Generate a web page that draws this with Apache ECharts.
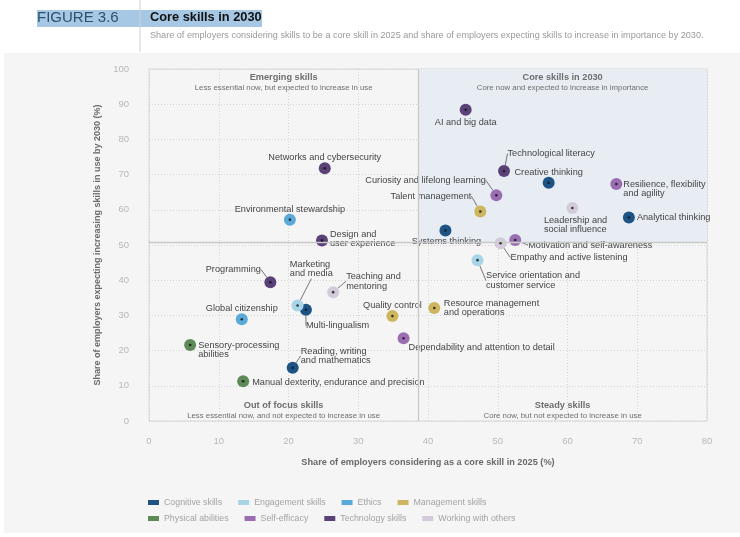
<!DOCTYPE html>
<html>
<head>
<meta charset="utf-8">
<title>Core skills in 2030</title>
<script src="https://cdn.jsdelivr.net/npm/echarts@6/dist/echarts.min.js"></script>
<style>
  html, body { margin: 0; padding: 0; background: #fff; }
  #chart { width: 740px; height: 537px; }
</style>
</head>
<body>
<div id="chart"></div>
<script>
// categories shown in the legend
var categories = ['Cognitive skills', 'Engagement skills', 'Ethics', 'Management skills',
                  'Physical abilities', 'Self-efficacy', 'Technology skills', 'Working with others'];

// skill names (line breaks as printed)
var skills = [
    'AI and big data', 'Technological literacy', 'Creative thinking',
    'Resilience, flexibility\nand agility', 'Curiosity and lifelong learning', 'Talent management',
    'Leadership and\nsocial influence', 'Analytical thinking', 'Systems thinking',
    'Motivation and self-awareness', 'Empathy and active listening',
    'Service orientation and\ncustomer service', 'Resource management\nand operations',
    'Quality control', 'Dependability and attention to detail', 'Networks and cybersecurity',
    'Environmental stewardship', 'Design and\nuser experience', 'Programming',
    'Teaching and\nmentoring', 'Marketing\nand media', 'Multi-lingualism', 'Global citizenship',
    'Sensory-processing\nabilities', 'Reading, writing\nand mathematics',
    'Manual dexterity, endurance and precision'
];
// share of employers considering it a core skill in 2025 (%)
var coreShare = [45.4, 50.9, 57.3, 67.0, 49.8, 47.5, 60.7, 68.8, 42.5, 52.5, 50.4, 47.1, 40.9,
                 34.9, 36.5, 25.2, 20.2, 24.8, 17.4, 26.4, 21.3, 22.5, 13.3, 5.9, 20.6, 13.5];
// share of employers expecting increasing use by 2030 (%)
var increaseShare = [88.4, 71.0, 67.7, 67.3, 64.1, 59.5, 60.5, 57.8, 54.1, 51.4, 50.5, 45.7, 32.1,
                     29.8, 23.5, 71.8, 57.2, 51.3, 39.4, 36.6, 32.8, 31.6, 28.9, 21.6, 15.1, 11.3];
// index into categories
var skillGroup = [6, 6, 0, 5, 5, 3, 7, 0, 0, 5, 7, 1, 3, 3, 5, 6, 2, 6, 6, 7, 1, 0, 2, 4, 0, 4];

// quadrant dividers
var xDivider = 38.6;
var yDivider = 50.8;

var colors = ['#1e5485', '#a8d4e8', '#5aaad9', '#cdb65e', '#5d8a57', '#9b6eb1', '#5a4279', '#d3cbdb'];

// label placement relative to each point: dx, dy, align, leader line
var labelSpots = [
    [0, 12.5, 'center', false], [3.5, -17.5, 'left', true], [0, -10.5, 'center', false],
    [7, 5, 'left', false], [-10.5, -15, 'right', true], [-9, -15.5, 'right', true],
    [-28.5, 17, 'left', false], [8, 0, 'left', false], [1, 11, 'center', false],
    [13, 5, 'left', true], [10, 14.5, 'left', true], [8.5, 20.5, 'left', true],
    [9.5, 0, 'left', false], [0, -10.5, 'center', false], [5, 9, 'left', false],
    [0, -10.5, 'center', false], [0, -10.5, 'center', false], [8, -1.5, 'left', false],
    [-9.5, -13, 'right', true], [13, -11, 'left', true], [-7.7, -36.5, 'left', true],
    [0, 16, 'left', true], [0, -10.5, 'center', false], [8, 5, 'left', false],
    [8, -12, 'left', true], [9, 1, 'left', false]
];

var font = 'Liberation Sans, Arial, Helvetica, sans-serif';

function myChart() {
    var chart = echarts.init(document.getElementById('chart'));

    // skill indices per category series
    var members = categories.map(function () { return []; });
    for (var i = 0; i < skills.length; i++) {
        members[skillGroup[i]].push(i);
    }

    var series = categories.map(function (cat, c) {
        return {
            name: cat,
            type: 'scatter',
            z: 3,
            symbolSize: 12,
            itemStyle: { color: colors[c], opacity: 1 },
            data: members[c].map(function (i) {
                return {
                    name: skills[i],
                    value: [coreShare[i], increaseShare[i]],
                    labelLine: { show: labelSpots[i][3] }
                };
            }),
            label: {
                show: true,
                position: 'right',
                formatter: '{b}',
                color: '#454545',
                fontSize: 9.2,
                lineHeight: 9.6,
                fontFamily: font
            },
            labelLine: {
                show: false,
                lineStyle: { color: '#555', width: 0.8 }
            },
            labelLayout: function (params) {
                var i = members[params.seriesIndex][params.dataIndex];
                var s = labelSpots[i];
                var r = params.rect;
                return {
                    x: r.x + r.width / 2 + s[0],
                    y: r.y + r.height / 2 + s[1],
                    align: s[2],
                    verticalAlign: 'middle'
                };
            },
            emphasis: { disabled: true }
        };
    });

    // centre dots of every marker
    series.push({
        name: 'centres',
        type: 'scatter',
        z: 5,
        silent: true,
        symbolSize: 2.6,
        itemStyle: { color: '#111' },
        data: coreShare.map(function (x, i) { return [x, increaseShare[i]]; })
    });

    // quadrants and dividers
    var titleRich = {
        t: { fontSize: 9.2, fontWeight: 'bold', color: '#6e6e6e', lineHeight: 10.5, fontFamily: font },
        s: { fontSize: 7.8, color: '#6e6e6e', lineHeight: 10, fontFamily: font }
    };
    series.push({
        name: 'quadrants',
        type: 'scatter',
        z: 1,
        silent: true,
        data: [],
        markArea: {
            silent: true,
            itemStyle: { color: 'rgba(0,0,0,0)' },
            label: { show: true, rich: titleRich },
            data: [
                [{ xAxis: 0, yAxis: yDivider, label: { position: 'insideTop', distance: 3,
                    formatter: '{t|Emerging skills}\n{s|Less essential now, but expected to increase in use}' } },
                 { xAxis: xDivider, yAxis: 100 }],
                [{ xAxis: xDivider, yAxis: yDivider, itemStyle: { color: '#e7edf3' },
                   label: { position: 'insideTop', distance: 3,
                    formatter: '{t|Core skills in 2030}\n{s|Core now and expected to increase in importance}' } },
                 { xAxis: 80, yAxis: 100 }],
                [{ xAxis: 0, yAxis: 0, label: { position: 'insideBottom', distance: 0,
                    formatter: '{t|Out of focus skills}\n{s|Less essential now, and not expected to increase in use}' } },
                 { xAxis: xDivider, yAxis: yDivider }],
                [{ xAxis: xDivider, yAxis: 0, label: { position: 'insideBottom', distance: 0,
                    formatter: '{t|Steady skills}\n{s|Core now, but not expected to increase in use}' } },
                 { xAxis: 80, yAxis: yDivider }]
            ]
        },
        markLine: {
            silent: true,
            symbol: 'none',
            label: { show: false },
            lineStyle: { type: 'solid', color: '#c9c9c9', width: 1.3 },
            data: [{ xAxis: xDivider }, { yAxis: yDivider }]
        }
    });

    var legendBase = {
        left: 148,
        padding: 0,
        icon: 'rect',
        itemWidth: 11,
        itemHeight: 5,
        itemGap: 16,
        textStyle: { color: '#a3a3a3', fontSize: 8.8, fontFamily: font },
        selectedMode: false
    };

    var option = {
        backgroundColor: '#ffffff',
        animation: false,
        textStyle: { fontFamily: font },
        graphic: [
            { type: 'rect', z: -10, silent: true, shape: { x: 4, y: 53, width: 736, height: 480 },
              style: { fill: '#f5f5f5' } },
            { type: 'rect', z: -5, silent: true, shape: { x: 37, y: 10, width: 225, height: 17 },
              style: { fill: '#a6c8e4' } },
            { type: 'line', silent: true, shape: { x1: 140, y1: 0, x2: 140, y2: 52 },
              style: { stroke: '#cfcfcf', lineWidth: 1 } },
            { type: 'text', silent: true, left: 37, top: 10.5,
              style: { text: 'FIGURE 3.6', fill: '#2e4f6e', font: '15px ' + font } },
            { type: 'text', silent: true, left: 150, top: 11,
              style: { text: 'Core skills in 2030', fill: '#111', font: 'bold 12.8px ' + font } },
            { type: 'text', silent: true, left: 150, top: 31,
              style: { text: 'Share of employers considering skills to be a core skill in 2025 and share of employers expecting skills to increase in importance by 2030.',
                       fill: '#9a9a9a', font: '9.1px ' + font } }
        ],
        legend: [
            Object.assign({ top: 498, data: categories.slice(0, 4) }, legendBase),
            Object.assign({ top: 514, data: categories.slice(4) }, legendBase)
        ],
        grid: {
            left: 149, right: 33, top: 69, bottom: 116,
            show: true, borderColor: '#d6d6d6', borderWidth: 1, backgroundColor: 'transparent'
        },
        xAxis: {
            type: 'value', min: 0, max: 80, interval: 10,
            name: 'Share of employers considering as a core skill in 2025 (%)',
            nameLocation: 'middle', nameGap: 37,
            nameTextStyle: { color: '#6a6a6a', fontWeight: 'bold', fontSize: 9.2, fontFamily: font },
            axisLine: { show: false }, axisTick: { show: false },
            axisLabel: { color: '#b8b8b8', fontSize: 9.5, margin: 15, fontFamily: font },
            splitLine: { lineStyle: { type: [1, 2], color: '#d4d4d4' } }
        },
        yAxis: {
            type: 'value', min: 0, max: 100, interval: 10,
            name: 'Share of employers expecting increasing skills in use by 2030 (%)',
            nameLocation: 'middle', nameGap: 46,
            nameTextStyle: { color: '#6a6a6a', fontWeight: 'bold', fontSize: 9, fontFamily: font },
            axisLine: { show: false }, axisTick: { show: false },
            axisLabel: { color: '#b8b8b8', fontSize: 9.5, margin: 20, fontFamily: font },
            splitLine: { lineStyle: { type: [1, 2], color: '#d4d4d4' } }
        },
        series: series
    };

    chart.setOption(option);
    window.addEventListener('resize', function () { chart.resize(); });
}
myChart();
</script>
</body>
</html>
